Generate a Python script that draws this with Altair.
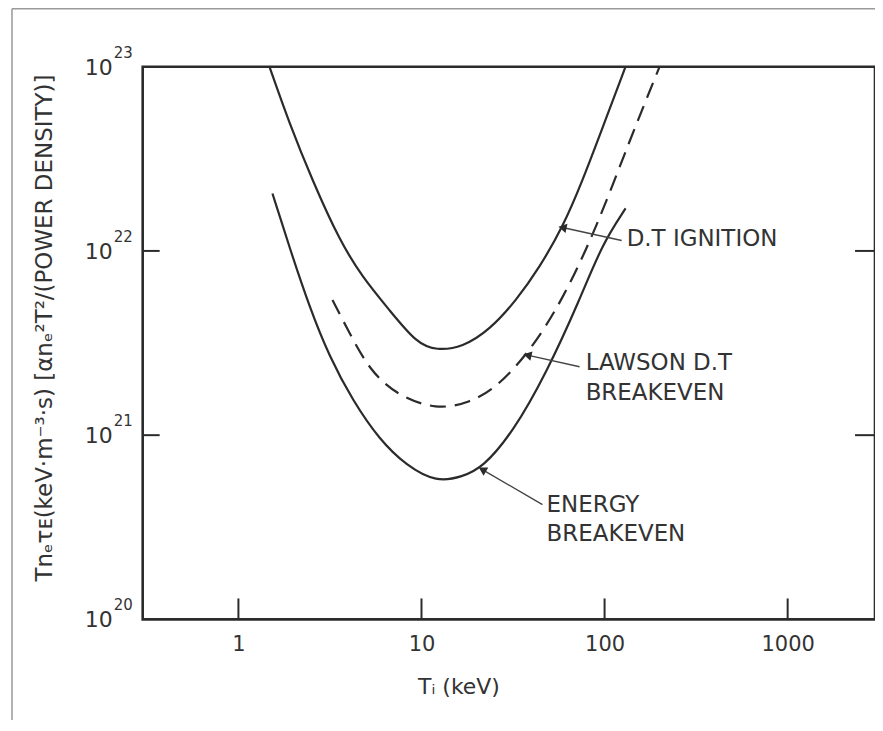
import altair as alt
import pandas as pd

# ---- data ----
T_ign = [1.477, 1.90, 2.537, 3.564, 4.76, 6.686, 9.39, 12.08, 16.75, 23.53, 33.04, 44.14, 58.97, 75.83, 97.5, 130.2]
Y_ign = [1.0e23, 4.91e22, 2.41e22, 1.14e22, 7.2e21, 4.77e21, 3.16e21, 2.88e21, 3.0e21, 3.72e21, 5.41e21,
         8.16e21, 1.34e22, 2.41e22, 4.67e22, 1.0e23]

T_en = [1.534, 1.90, 2.443, 3.143, 4.197, 5.896, 8.279, 12.08, 16.75, 21.54, 31.43, 48.2, 73.02, 97.5, 130.2]
Y_en = [2.05e22, 1.047e22, 4.96e21, 2.66e21, 1.55e21, 9.44e20, 6.83e20, 5.55e20, 5.95e20, 6.66e20, 1.03e21,
        2.18e21, 5.41e21, 1.10e22, 1.70e22]

T_law = [3.264, 4.043, 5.198, 7.302, 12.08, 18.30, 25.70, 38.92, 58.97, 90.43, 136.9, 199.8]
Y_law = [5.41e21, 3.58e21, 2.26e21, 1.65e21, 1.37e21, 1.50e21, 1.81e21, 2.83e21, 5.41e21, 1.34e22, 3.97e22, 1.0e23]

x_ticks = [1, 10, 100, 1000]
y_ticks = [1e20, 1e21, 1e22, 1e23]
y_exp = ["20", "21", "22", "23"]
y_inner_ticks = [1e21, 1e22]

# annotations: label lines, arrow tail -> tip (data coordinates)
label_text = ["D.T IGNITION", "LAWSON  D.T", "BREAKEVEN", "ENERGY", "BREAKEVEN"]
label_x = [132, 78.8, 78.8, 48.2, 48.2]
label_y = [1.16e22, 2.47e21, 1.70e21, 4.20e20, 2.90e20]

arrow_name = ["ign", "law", "en"]
tail_x = [124, 73.0, 45.8]
tail_y = [1.14e22, 2.35e21, 4.20e20]
tip_x = [58.9, 37.9, 21.5]
tip_y = [1.34e22, 2.72e21, 6.5e20]
tip_angle = [192, 193, 210]

W, H = 734, 554
INK = "#2b2b2b"
TXT = "#333"
FONT = "DejaVu Sans"

xscale = alt.Scale(type="log", domain=[0.3, 3000], nice=False)
yscale = alt.Scale(type="log", domain=[1e20, 1e23], nice=False)

xaxis = alt.Axis(values=x_ticks, ticks=False, domain=False, grid=False, title=None,
                 labelFont=FONT, labelFontSize=21, labelColor=TXT, labelPadding=14,
                 format="d", labelFlush=False)


def X(f):
    return alt.X(f, type="quantitative", scale=xscale, axis=xaxis)


def Y(f):
    return alt.Y(f, type="quantitative", scale=yscale, axis=None)


curves = pd.concat([
    pd.DataFrame({"T": T_ign, "V": Y_ign, "s": "ign"}),
    pd.DataFrame({"T": T_en, "V": Y_en, "s": "en"}),
])
law = pd.DataFrame({"T": T_law, "V": Y_law})

solid = alt.Chart(curves).mark_line(color=INK, strokeWidth=2.2, interpolate="basis").encode(
    x=X("T"), y=Y("V"), detail="s:N")
dashed = alt.Chart(law).mark_line(color=INK, strokeWidth=2.2, interpolate="basis",
                                  strokeDash=[16, 9]).encode(x=X("T"), y=Y("V"))

xt = alt.Chart(pd.DataFrame({"t": x_ticks})).mark_rule(color=INK, strokeWidth=2).encode(
    x=X("t"), y=alt.value(H), y2=alt.value(H - 21))
lt = alt.Chart(pd.DataFrame({"v": y_inner_ticks})).mark_rule(color=INK, strokeWidth=2).encode(
    y=Y("v"), x=alt.value(0), x2=alt.value(17))
rt = alt.Chart(pd.DataFrame({"v": y_inner_ticks})).mark_rule(color=INK, strokeWidth=2).encode(
    y=Y("v"), x=alt.value(W - 20), x2=alt.value(W))

ylab_df = pd.DataFrame({"v": y_ticks, "e": y_exp, "b": ["10"] * len(y_ticks)})
ybase = alt.Chart(ylab_df).mark_text(font=FONT, fontSize=22, color=TXT, align="right",
                                      baseline="middle", dy=1).encode(
    y=Y("v"), x=alt.value(-30), text="b:N")
ysup = alt.Chart(ylab_df).mark_text(font=FONT, fontSize=15, color=TXT, align="left",
                                     baseline="middle", dy=-14).encode(
    y=Y("v"), x=alt.value(-29), text="e:N")

arr = pd.DataFrame({"n": arrow_name, "x1": tail_x, "y1": tail_y, "x2": tip_x, "y2": tip_y, "a": tip_angle})
leaders = alt.Chart(arr).mark_rule(color="#444", strokeWidth=1.4).encode(
    x=X("x1"), y=Y("y1"), x2="x2", y2="y2")
heads = alt.Chart(arr).mark_point(shape="triangle-right", filled=True, size=90, color=INK, opacity=1).encode(
    x=X("x2"), y=Y("y2"), angle=alt.Angle("a:Q", scale=None))

labels = alt.Chart(pd.DataFrame({"t": label_text, "x": label_x, "y": label_y})).mark_text(
    align="left", baseline="middle", font=FONT, fontSize=23, color=TXT).encode(
    x=X("x"), y=Y("y"), text="t:N")

xtitle = alt.Chart(pd.DataFrame({"t": ["Tᵢ (keV)"]})).mark_text(
    font=FONT, fontSize=22, color=TXT, align="center", baseline="middle").encode(
    text="t:N", x=alt.value(317), y=alt.value(622))
ytitle = alt.Chart(pd.DataFrame({"t": ["Tnₑτᴇ(keV·m⁻³·s)  [αnₑ²T²/(POWER DENSITY)]"]})).mark_text(
    font=FONT, fontSize=23, color=TXT, align="center", baseline="middle", angle=270).encode(
    text="t:N", x=alt.value(-98), y=alt.value(262))

frame_l = alt.Chart(pd.DataFrame({"k": [0]})).mark_rule(color="#999", strokeWidth=1.5).encode(
    x=alt.value(-131), y=alt.value(-58), y2=alt.value(680))
frame_t = alt.Chart(pd.DataFrame({"k": [0]})).mark_rule(color="#999", strokeWidth=1.5).encode(
    y=alt.value(-58), x=alt.value(-131), x2=alt.value(760))

chart = alt.layer(
    frame_l, frame_t, solid, dashed, xt, lt, rt, ybase, ysup, leaders, heads, labels, xtitle, ytitle
).properties(
    width=W, height=H,
    padding={"left": 135, "top": 58, "right": 0, "bottom": 100},
    autosize=alt.AutoSizeParams(type="none"),
    background="white",
).configure_view(stroke=INK, strokeWidth=2.6)

chart.save("out.html", embed_options={"renderer": "svg", "actions": False})
